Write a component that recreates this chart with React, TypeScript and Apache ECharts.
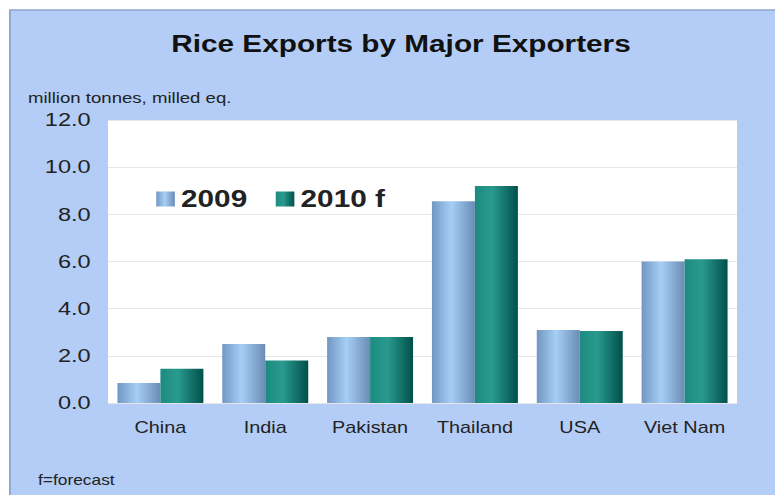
import React, { useEffect, useRef } from "react";
import * as echarts from "echarts";

const categories = ["China", "India", "Pakistan", "Thailand", "USA", "Viet Nam"];
const series2009 = [0.85, 2.5, 2.8, 8.55, 3.1, 6.0];
const series2010f = [1.45, 1.8, 2.8, 9.2, 3.05, 6.1];
const seriesNames = ["2009", "2010 f"];
const titleText = "Rice Exports by Major Exporters";
const unitText = "million tonnes, milled eq.";
const noteText = "f=forecast";

const FONT = "'Liberation Sans', Arial, Helvetica, sans-serif";
// the reference picture is stretched horizontally; draw narrower and stretch
const SX = 1.24;
const W = 775 / SX;

export default function App() {
  const ref = useRef<HTMLDivElement>(null);
  useEffect(() => {
    document.body.style.margin = "0";
    const chart = echarts.init(ref.current!, null, { renderer: "svg" });
    const blueGrad = new echarts.graphic.LinearGradient(0, 0, 1, 0, [
      { offset: 0, color: "#7196c2" },
      { offset: 0.45, color: "#a6cff5" },
      { offset: 1, color: "#6a8cb6" },
    ]);
    const tealGrad = new echarts.graphic.LinearGradient(0, 0, 1, 0, [
      { offset: 0, color: "#1c8a80" },
      { offset: 0.4, color: "#2a9a8f" },
      { offset: 1, color: "#00504b" },
    ]);
    chart.setOption({
      animation: false,
      backgroundColor: "#ffffff",
      textStyle: { fontFamily: FONT },
      graphic: [
        {
          type: "rect",
          shape: { x: 8, y: 10, width: W, height: 490 },
          style: { fill: "#b3cdf6", stroke: "#8ea6ca", lineWidth: 1.5 },
          z: -10,
        },
        {
          type: "text",
          x: 401 / SX,
          y: 44,
          style: {
            text: titleText,
            fontSize: 24,
            fontWeight: "bold",
            fontFamily: FONT,
            fill: "#111",
            align: "center",
            verticalAlign: "middle",
          },
        },
        {
          type: "text",
          x: 28 / SX,
          y: 98,
          style: {
            text: unitText,
            fontSize: 15,
            fontFamily: FONT,
            fill: "#222",
            verticalAlign: "middle",
          },
        },
        {
          type: "text",
          x: 38 / SX,
          y: 480,
          style: {
            text: noteText,
            fontSize: 14,
            fontFamily: FONT,
            fill: "#222",
            verticalAlign: "middle",
          },
        },
      ],
      legend: {
        data: seriesNames,
        left: 121,
        top: 182,
        itemWidth: 15,
        itemHeight: 15,
        itemGap: 23,
        icon: "rect",
        textStyle: { fontSize: 24, fontWeight: "bold", color: "#222", fontFamily: FONT },
      },
      grid: {
        left: 108 / SX,
        right: W - 737 / SX,
        top: 120,
        bottom: 92,
        show: true,
        backgroundColor: "#ffffff",
        borderWidth: 0,
      },
      xAxis: {
        type: "category",
        data: categories,
        axisLine: { show: false },
        axisTick: { show: false },
        axisLabel: { interval: 0, fontSize: 16, color: "#222", margin: 17, fontFamily: FONT },
      },
      yAxis: {
        type: "value",
        min: 0,
        max: 12,
        interval: 2,
        axisLine: { show: false },
        axisTick: { show: false },
        axisLabel: {
          fontSize: 19,
          color: "#222",
          margin: 14,
          fontFamily: FONT,
          formatter: (v: number) => v.toFixed(1),
        },
        splitLine: { lineStyle: { color: "#e6e6e6", width: 1 } },
      },
      series: [
        {
          name: seriesNames[0],
          type: "bar",
          data: series2009,
          barGap: "0%",
          barCategoryGap: "18%",
          itemStyle: { color: blueGrad },
        },
        {
          name: seriesNames[1],
          type: "bar",
          data: series2010f,
          barGap: "0%",
          barCategoryGap: "18%",
          itemStyle: { color: tealGrad },
        },
      ],
    });
    return () => chart.dispose();
  }, []);
  return (
    <div style={{ width: 775, height: 495, overflow: "hidden", background: "#fff" }}>
      <div
        ref={ref}
        style={{ width: W, height: 495, transform: `scaleX(${SX})`, transformOrigin: "0 0" }}
      />
    </div>
  );
}
